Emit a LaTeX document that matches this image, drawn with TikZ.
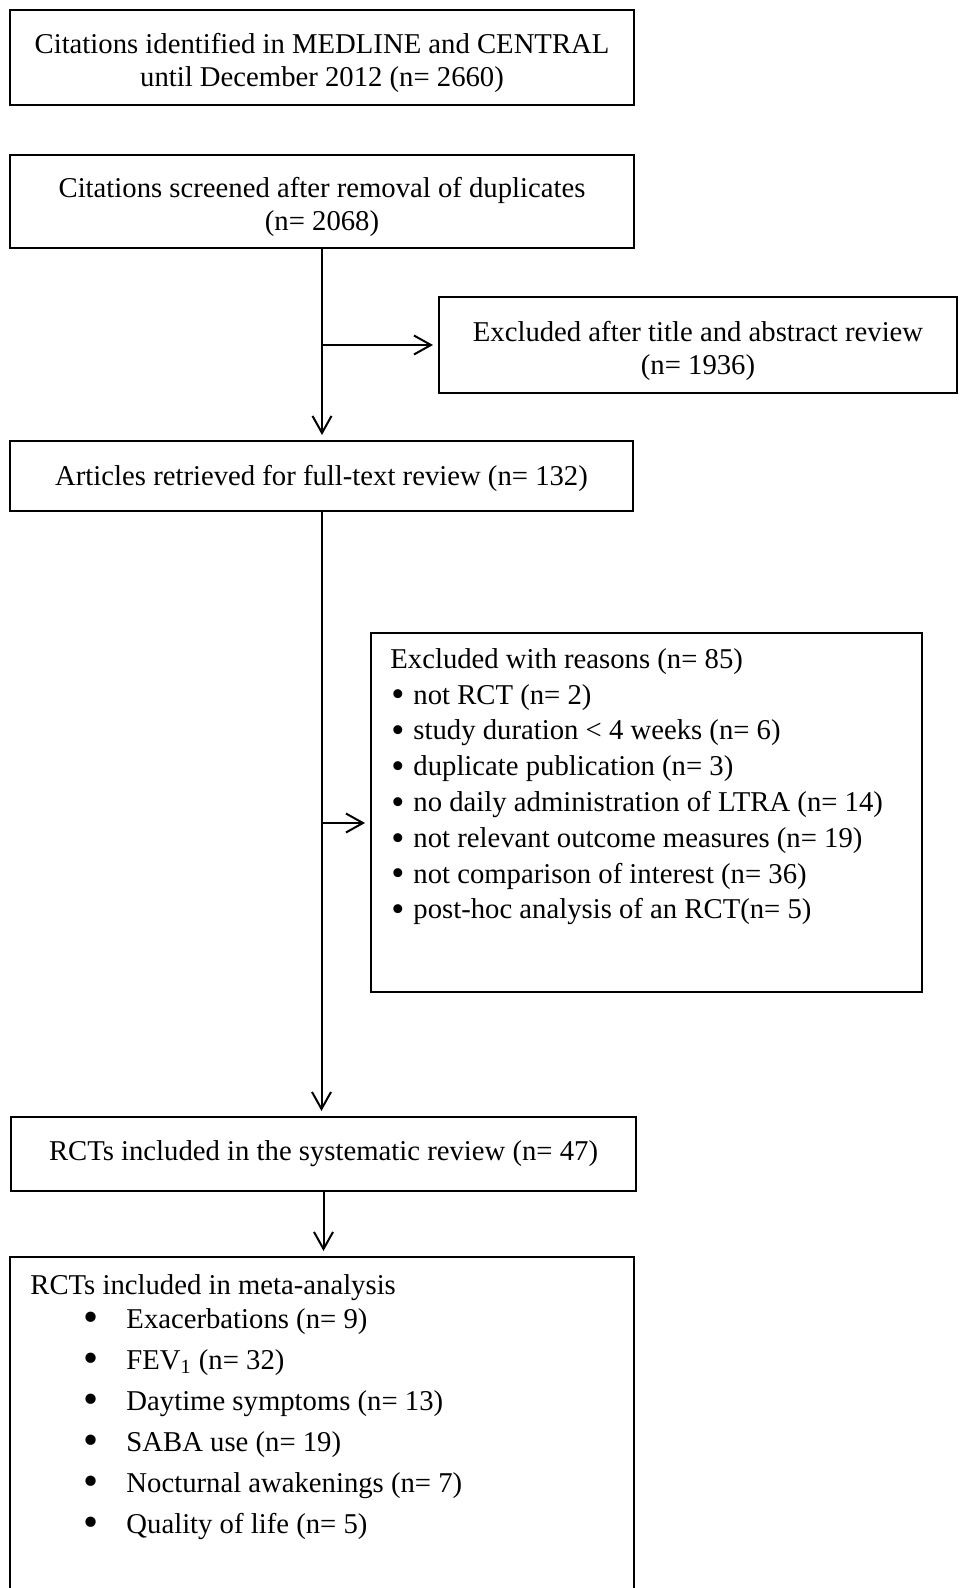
\documentclass[tikz,border=0pt]{standalone}
\usepackage{graphicx}
\usepackage{fontspec}
\setmainfont{Liberation Serif}
\usetikzlibrary{arrows.meta}

\newcommand{\bigbullet}[1]{\smash{\raisebox{-1.4pt}{\scalebox{#1}{\textbullet}}}}
\newcommand{\exitem}[1]{\hspace*{0.5pt}\bigbullet{1.3}\hspace{4.5pt}#1}
\newcommand{\maitem}[1]{\hspace*{26.5pt}\bigbullet{1.5}\hspace{14pt}#1}
\newcommand{\topgap}[1]{\rule{0pt}{#1}}

\begin{document}
\begin{tikzpicture}[x=0.5pt, y=-0.5pt,
  every node/.style={inner sep=0pt, font=\fontsize{14.35}{16.5}\selectfont},
  box/.style={draw, line width=1pt, align=center},
  flow/.style={line width=1pt, -{Straight Barb[length=8.5pt,width=9.5pt,line width=1pt]}, shorten >=2.5pt}]
  \useasboundingbox (0,0) rectangle (959,1588);
  \node[box, minimum width=312pt, minimum height=47.5pt] (found) at (322,57.5) {\topgap{15.8pt}Citations identified in MEDLINE and CENTRAL\\ until December 2012 (n= 2660)};
  \node[box, minimum width=312pt, minimum height=46.5pt] (screened) at (322,201.5) {\topgap{15.8pt}Citations screened after removal of duplicates\\ (n= 2068)};
  \node[box, minimum width=259pt, minimum height=48pt] (title) at (698,345) {\topgap{15.8pt}Excluded after title and abstract review\\ (n= 1936)};
  \node[box, minimum width=311.5pt, minimum height=35pt] (fulltext) at (321.5,476) {\topgap{12.8pt}Articles retrieved for full-text review (n= 132)};
  \node[box, minimum width=275.5pt, minimum height=179.5pt] (reasons) at (646.5,812.5) {};
  \node[anchor=north west, align=left, font=\fontsize{14.35}{17.9}\selectfont] (reasonlist) at (390,648) {Excluded with reasons (n= 85)\\
    \exitem{not RCT (n= 2)}\\
    \exitem{study duration < 4 weeks (n= 6)}\\
    \exitem{duplicate publication (n= 3)}\\
    \exitem{no daily administration of LTRA (n= 14)}\\
    \exitem{not relevant outcome measures (n= 19)}\\
    \exitem{not comparison of interest (n= 36)}\\
    \exitem{post-hoc analysis of an RCT(n= 5)}};
  \node[box, minimum width=312.5pt, minimum height=37pt] (included) at (323.5,1154) {RCTs included in the systematic review (n= 47)};
  \node[box, minimum width=312pt, minimum height=171.5pt] (meta) at (322,1428.5) {};
  \node[anchor=north west, align=left, font=\fontsize{14.35}{17}\selectfont] (metalist) at (30,1274) {RCTs included in meta-analysis\\
    \maitem{Exacerbations (n= 9)}\\[3.5pt]
    \maitem{FEV\textsubscript{1} (n= 32)}\\[3.5pt]
    \maitem{Daytime symptoms (n= 13)}\\[3.5pt]
    \maitem{SABA use (n= 19)}\\[3.5pt]
    \maitem{Nocturnal awakenings (n= 7)}\\[3.5pt]
    \maitem{Quality of life (n= 5)}};
  % side branches
  \coordinate (split1) at (321,345);
  \coordinate (split2) at (321,823);
  \draw[flow] (screened.south) -- (screened.south |- fulltext.north);
  \draw[flow] (split1) -- (split1 -| title.west);
  \draw[flow] (fulltext.south) -- (fulltext.south |- included.north);
  \draw[flow] (split2) -- (split2 -| reasons.west);
  \draw[flow] (included.south) -- (included.south |- meta.north);
\end{tikzpicture}
\end{document}
